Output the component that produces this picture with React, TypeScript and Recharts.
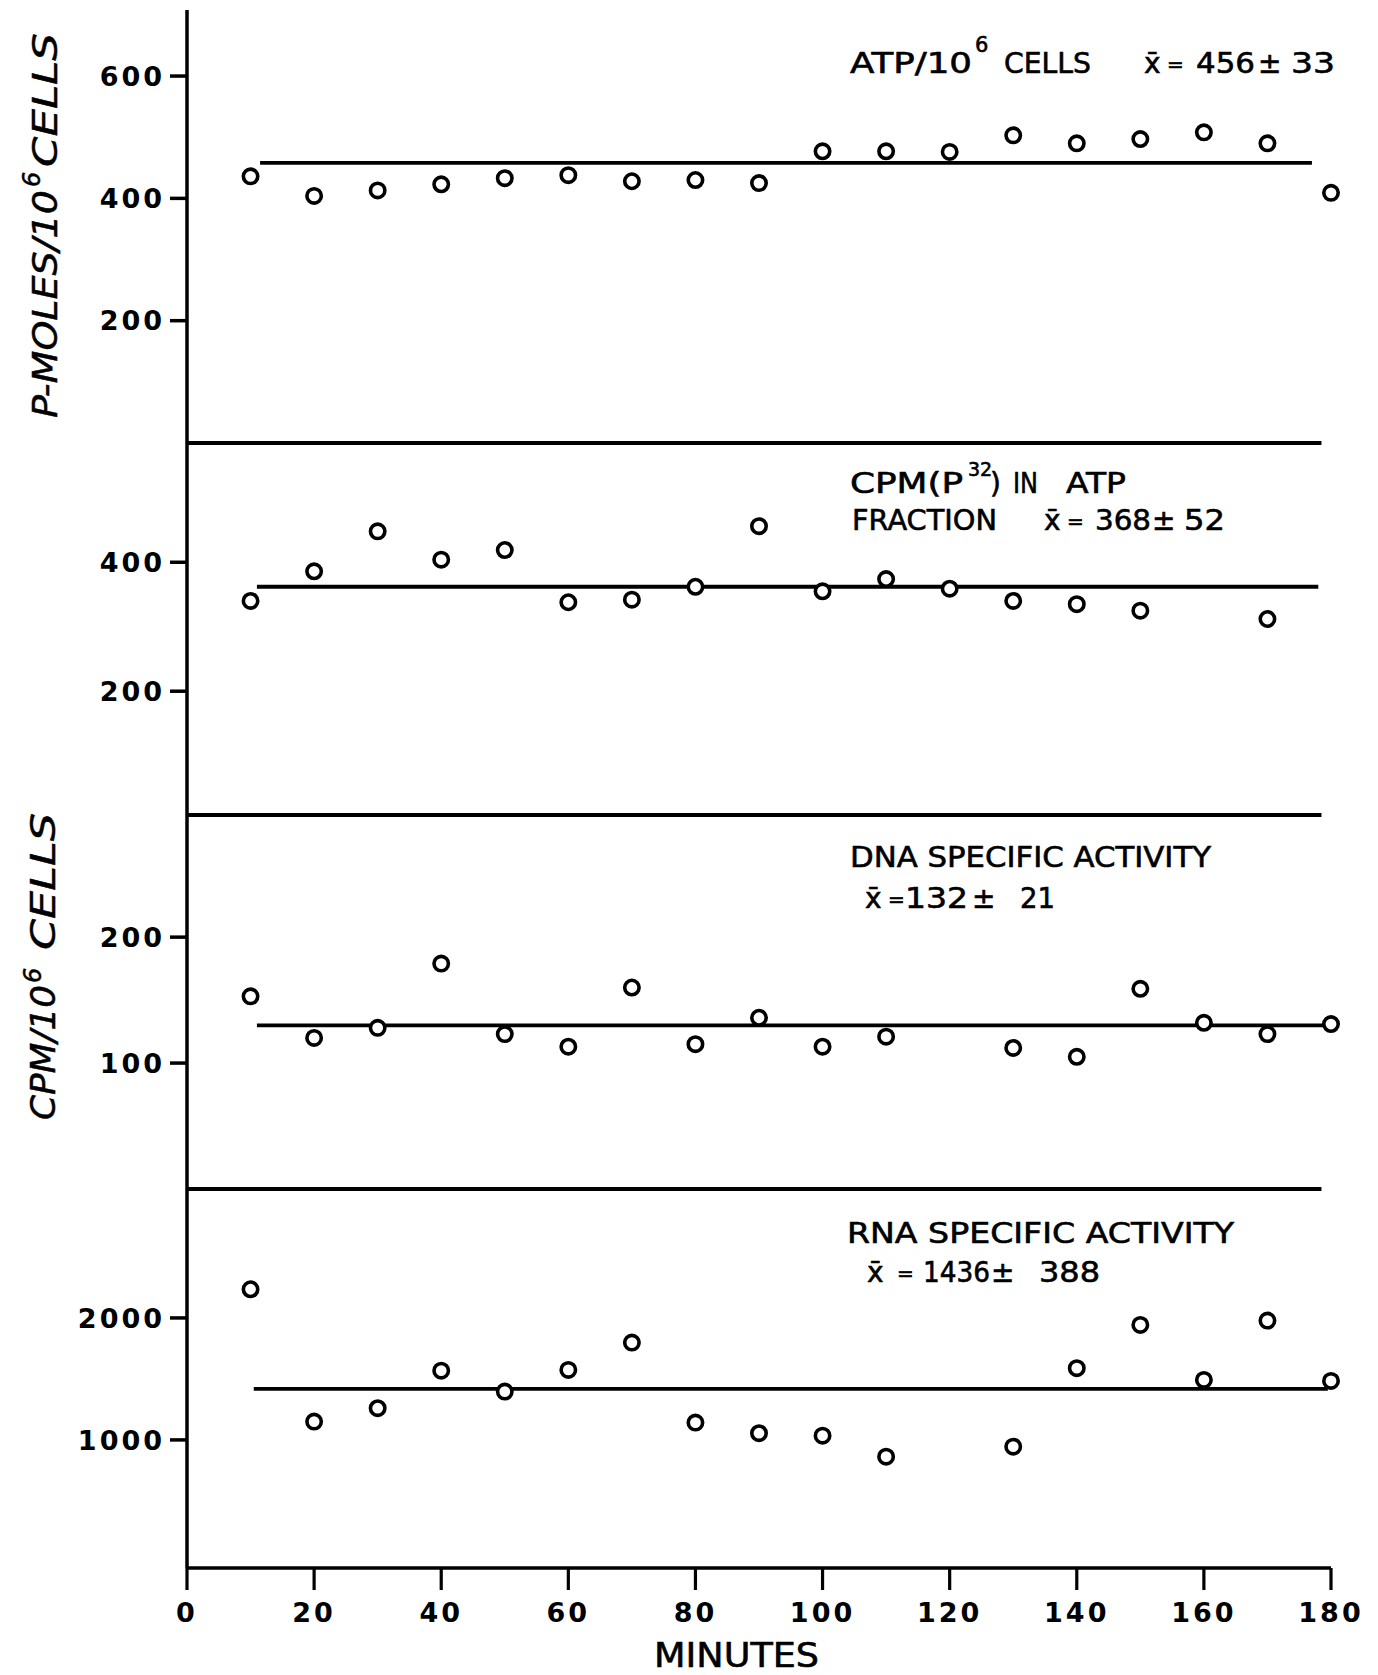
import React from 'react';
import { ScatterChart, Scatter, XAxis, YAxis, ReferenceLine } from 'recharts';

// ---------- data ----------
const minutes = [10, 20, 30, 40, 50, 60, 70, 80, 90, 100, 110, 120, 130, 140, 150, 160, 170, 180];
const atpValues = [436, 404, 413, 423, 433, 438, 428, 430, 425, 477, 477, 476, 503, 490, 497, 508, 490, 409];

const cpmMinutes = [10, 20, 30, 40, 50, 60, 70, 80, 90, 100, 110, 120, 130, 140, 150, 170];
const cpmValues = [340, 386, 448, 404, 419, 338, 342, 362, 456, 355, 374, 359, 340, 335, 325, 312];

const dnaMinutes = [10, 20, 30, 40, 50, 60, 70, 80, 90, 100, 110, 130, 140, 150, 160, 170, 180];
const dnaValues = [153, 120, 128, 179, 123, 113, 160, 115, 136, 113, 121, 112, 105, 159, 132, 123, 131];

const rnaMinutes = [10, 20, 30, 40, 50, 60, 70, 80, 90, 100, 110, 130, 140, 150, 160, 170, 180];
const rnaValues = [2235, 1150, 1260, 1568, 1396, 1574, 1798, 1142, 1055, 1035, 863, 945, 1588, 1943, 1492, 1978, 1484];

// mean lines: [startMinute, endMinute, value]
const atpMean = [11.5, 177, 458];
const cpmMean = [11, 178, 362];
const dnaMean = [11, 179.5, 130];
const rnaMean = [10.5, 179.5, 1418];

const atpTicks = [200, 400, 600];
const cpmTicks = [200, 400];
const dnaTicks = [100, 200];
const rnaTicks = [1000, 2000];
const minuteTicks = [0, 20, 40, 60, 80, 100, 120, 140, 160, 180];

const separatorEnd = 178.5;

const toPts = (xs: number[], ys: number[]) => xs.map((x, i) => ({ x, y: ys[i] }));

// ---------- styling ----------
const W = 1378;
const PLOT_LEFT = 187;
const PLOT_RIGHT = 1331;
const PAD = 20;
const tickFont = {
  fill: '#000',
  fontSize: 27,
  fontWeight: 'bold' as const,
  fontFamily: 'DejaVu Sans',
  letterSpacing: 3,
};
const annFont = { fontFamily: 'DejaVu Sans', fontSize: 28, fill: '#000', stroke: '#000', strokeWidth: 0.6 };

const Circle = (props: any) => {
  const { cx, cy } = props;
  if (cx == null || cy == null) return null;
  return <circle cx={cx} cy={cy} r={7.2} fill="#fff" stroke="#000" strokeWidth={3.6} />;
};

type PanelProps = {
  top: number;
  bottom: number;
  domain: [number, number];
  ticks: number[];
  pts: { x: number; y: number }[];
  mean: number[];
  showX?: boolean;
  separator?: boolean;
};

const Panel = ({ top, bottom, domain, ticks, pts, mean, showX, separator }: PanelProps) => {
  const xAxisH = showX ? 90 : 0;
  const plotH = bottom - top;
  const height = plotH + PAD * 2 + xAxisH;
  return (
    <div style={{ position: 'absolute', left: 0, top: top - PAD, width: W, height }}>
      <ScatterChart
        width={W}
        height={height}
        margin={{ top: PAD, bottom: PAD, left: 0, right: W - PLOT_RIGHT }}
      >
        <XAxis
          type="number"
          dataKey="x"
          domain={[0, 180]}
          ticks={minuteTicks}
          interval={0}
          hide={!showX}
          height={xAxisH}
          tickSize={22}
          tickMargin={13}
          tick={tickFont}
          axisLine={{ stroke: '#000', strokeWidth: 3.5 }}
          tickLine={{ stroke: '#000', strokeWidth: 3.2 }}
        />
        <YAxis
          type="number"
          dataKey="y"
          domain={domain}
          ticks={ticks}
          interval={0}
          width={PLOT_LEFT}
          tickSize={17}
          tickMargin={5}
          tick={tickFont}
          axisLine={{ stroke: '#000', strokeWidth: 3.5 }}
          tickLine={{ stroke: '#000', strokeWidth: 3.5 }}
        />
        {separator && (
          <ReferenceLine
            segment={[
              { x: 0, y: domain[0] },
              { x: separatorEnd, y: domain[0] },
            ]}
            stroke="#000"
            strokeWidth={4}
            ifOverflow="visible"
          />
        )}
        <ReferenceLine
          segment={[
            { x: mean[0], y: mean[2] },
            { x: mean[1], y: mean[2] },
          ]}
          stroke="#000"
          strokeWidth={3.8}
          ifOverflow="visible"
        />
        <Scatter data={pts} dataKey="y" shape={Circle} isAnimationActive={false} />
      </ScatterChart>
    </div>
  );
};

const T = (p: any) => <text lengthAdjust="spacingAndGlyphs" {...p} />;

const Overlay = () => (
  <svg
    width={W}
    height={1675}
    style={{ position: 'absolute', left: 0, top: 0, pointerEvents: 'none' }}
  >
    {/* Y axis titles */}
    <g fontFamily="DejaVu Sans" fontStyle="italic" fill="#000" stroke="#000" strokeWidth={0.5}>
      <T x={57} y={418} fontSize={34} transform="rotate(-90 57 418)" textLength={228}>
        P-MOLES/10
      </T>
      <text x={40} y={187} fontSize={24} transform="rotate(-90 40 187)">
        6
      </text>
      <T x={57} y={167} fontSize={34} transform="rotate(-90 57 167)" textLength={134}>
        CELLS
      </T>

      <T x={55} y={1120} fontSize={34} transform="rotate(-90 55 1120)" textLength={135}>
        CPM/10
      </T>
      <text x={41} y={983} fontSize={24} transform="rotate(-90 41 983)">
        6
      </text>
      <T x={55} y={950} fontSize={34} transform="rotate(-90 55 950)" textLength={137}>
        CELLS
      </T>
    </g>

    {/* Panel 1 annotation */}
    <g {...annFont}>
      <T x={850} y={73} textLength={122}>ATP/10</T>
      <text x={975} y={52} fontSize={21}>6</text>
      <T x={1004} y={73} textLength={87}>CELLS</T>
      <text x={1144} y={73}>x̄</text>
      <text x={1167} y={71} fontSize={20}>=</text>
      <T x={1196} y={73} textLength={59}>456</T>
      <text x={1258} y={73}>±</text>
      <T x={1291} y={73} textLength={44}>33</T>
    </g>

    {/* Panel 2 annotation */}
    <g {...annFont}>
      <T x={850} y={493} textLength={113}>CPM(P</T>
      <text x={968} y={476} fontSize={19}>32</text>
      <text x={990} y={493}>)</text>
      <T x={1013} y={493} textLength={25}>IN</T>
      <T x={1066} y={493} textLength={60}>ATP</T>
      <T x={852} y={530} textLength={145}>FRACTION</T>
      <text x={1044} y={530}>x̄</text>
      <text x={1067} y={528} fontSize={20}>=</text>
      <T x={1095} y={530} textLength={56}>368</T>
      <text x={1152} y={530}>±</text>
      <T x={1184} y={530} textLength={41}>52</T>
    </g>

    {/* Panel 3 annotation */}
    <g {...annFont}>
      <T x={850} y={867} textLength={361}>DNA SPECIFIC ACTIVITY</T>
      <text x={865} y={908}>x̄</text>
      <text x={888} y={906} fontSize={20}>=</text>
      <T x={905} y={908} textLength={63}>132</T>
      <text x={972} y={908}>±</text>
      <T x={1020} y={908} textLength={35}>21</T>
    </g>

    {/* Panel 4 annotation */}
    <g {...annFont}>
      <T x={847} y={1243} textLength={387}>RNA SPECIFIC ACTIVITY</T>
      <text x={867} y={1282}>x̄</text>
      <text x={897} y={1280} fontSize={20}>=</text>
      <T x={923} y={1282} textLength={67}>1436</T>
      <text x={991} y={1282}>±</text>
      <T x={1039} y={1282} textLength={61}>388</T>
    </g>

    {/* X axis title */}
    <T x={654} y={1667} fontFamily="DejaVu Sans" fontSize={33} fill="#000" stroke="#000" strokeWidth={0.6} textLength={165}>
      MINUTES
    </T>
  </svg>
);

export default function App() {
  return (
    <div style={{ position: 'absolute', left: 0, top: 0, width: W, height: 1675, background: '#fff' }}>
      <Panel top={10} bottom={443} domain={[0, 708]} ticks={atpTicks} pts={toPts(minutes, atpValues)} mean={atpMean} separator />
      <Panel top={443} bottom={815} domain={[8, 585]} ticks={cpmTicks} pts={toPts(cpmMinutes, cpmValues)} mean={cpmMean} separator />
      <Panel top={815} bottom={1189} domain={[0, 297]} ticks={dnaTicks} pts={toPts(dnaMinutes, dnaValues)} mean={dnaMean} separator />
      <Panel top={1189} bottom={1568} domain={[-50, 3057]} ticks={rnaTicks} pts={toPts(rnaMinutes, rnaValues)} mean={rnaMean} showX />
      <Overlay />
    </div>
  );
}
